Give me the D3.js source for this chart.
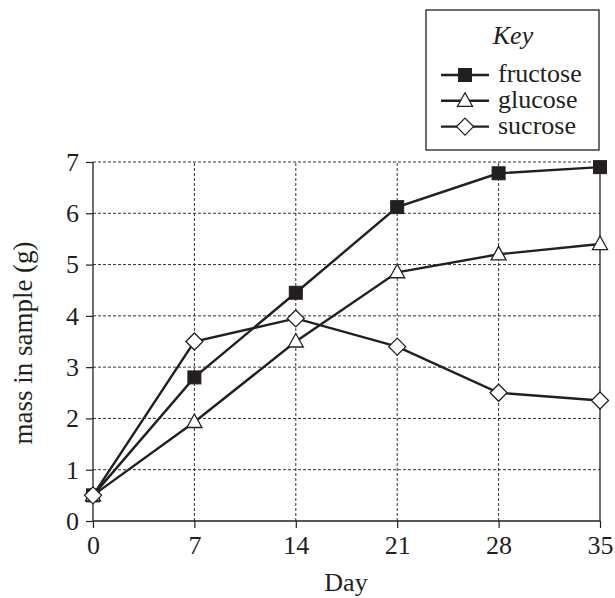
<!DOCTYPE html>
<html><head><meta charset="utf-8">
<script src="https://cdn.jsdelivr.net/npm/d3@7"></script>
<style>body{margin:0;background:#fff}svg{display:block}text{font-family:"Liberation Serif","Times New Roman",serif;fill:#231f20}</style>
</head><body><svg id="c" width="615" height="598"></svg>
<script>
const days = [0, 7, 14, 21, 28, 35];
const fructose = [0.5, 2.8, 4.45, 6.12, 6.78, 6.9];
const glucose = [0.5, 1.93, 3.5, 4.85, 5.2, 5.4];
const sucrose = [0.5, 3.5, 3.95, 3.4, 2.5, 2.35];
const yTicks = [0, 1, 2, 3, 4, 5, 6, 7];
const seriesNames = ["fructose", "glucose", "sucrose"];
const seriesShapes = ["square", "triangle", "diamond"];

const svg = d3.select("#c");
const ink = "#231f20";
const FS = 26;
const x = d3.scaleLinear().domain([0, 35]).range([93, 600]);
const y = d3.scaleLinear().domain([0, 7]).range([521, 162]);

// gridlines
const g = svg.append("g");
g.selectAll(".gy").data(yTicks.filter(d => d > 0)).join("line")
  .attr("x1", x(0)).attr("x2", x(35)).attr("y1", d => y(d)).attr("y2", d => y(d))
  .attr("stroke", "#333").attr("stroke-width", 1).attr("stroke-dasharray", "3,2");
g.selectAll(".gx").data(days.filter(d => d > 0 && d < 35)).join("line")
  .attr("x1", d => x(d)).attr("x2", d => x(d)).attr("y1", y(0)).attr("y2", y(7))
  .attr("stroke", "#333").attr("stroke-width", 1).attr("stroke-dasharray", "3,2");
// right border solid
svg.append("line").attr("x1", x(35)).attr("x2", x(35)).attr("y1", y(0)).attr("y2", y(7))
  .attr("stroke", ink).attr("stroke-width", 1.3);

// axes
const xAxis = d3.axisBottom(x).tickValues(days).tickSize(7).tickPadding(8).tickFormat(d3.format("d"));
const yAxis = d3.axisLeft(y).tickValues(yTicks).tickSize(7).tickPadding(7).tickFormat(d3.format("d"));
const gx = svg.append("g").attr("transform", `translate(0,${y(0)})`).call(xAxis);
const gy = svg.append("g").attr("transform", `translate(${x(0)},0)`).call(yAxis);
[gx, gy].forEach(a => {
  a.select(".domain").attr("stroke", ink).attr("stroke-width", 1.3);
  a.selectAll(".tick line").attr("stroke", ink).attr("stroke-width", 1.2);
  a.selectAll(".tick text").attr("font-size", FS).attr("font-family", "Liberation Serif").attr("fill", ink);
});
gx.select(".domain").attr("d", `M${x(0)},0H${x(35)}`);
gy.select(".domain").attr("d", `M0,${y(0)}V${y(7)}`);

svg.append("text").attr("x", 346).attr("y", 591).attr("text-anchor", "middle").attr("font-size", FS).text("Day");
svg.append("text").attr("transform", "translate(32,343) rotate(-90)").attr("text-anchor", "middle").attr("font-size", 27).text("mass in sample (g)");

const line = d3.line().x((d, i) => x(days[i])).y(d => y(d));
const allData = [fructose, glucose, sucrose];

function drawMarker(sel, shape, cx, cy) {
  if (shape === "square") {
    sel.append("rect").attr("x", cx - 6.5).attr("y", cy - 6.5).attr("width", 13).attr("height", 13)
      .attr("fill", ink).attr("stroke", ink).attr("stroke-width", 1);
  } else if (shape === "triangle") {
    sel.append("path").attr("d", `M${cx},${cy - 8}L${cx + 7.5},${cy + 5.5}L${cx - 7.5},${cy + 5.5}Z`)
      .attr("fill", "#fff").attr("stroke", ink).attr("stroke-width", 1.3);
  } else {
    sel.append("path").attr("d", `M${cx},${cy - 8.5}L${cx + 8.5},${cy}L${cx},${cy + 8.5}L${cx - 8.5},${cy}Z`)
      .attr("fill", "#fff").attr("stroke", ink).attr("stroke-width", 1.3);
  }
}

allData.forEach((vals, k) => {
  svg.append("path").datum(vals).attr("d", line).attr("fill", "none").attr("stroke", ink).attr("stroke-width", 2.4);
});
allData.forEach((vals, k) => {
  const mg = svg.append("g");
  vals.forEach((v, i) => drawMarker(mg, seriesShapes[k], x(days[i]), y(v)));
});

// legend
const lg = svg.append("g");
lg.append("rect").attr("x", 426).attr("y", 10).attr("width", 173).attr("height", 140)
  .attr("fill", "#fff").attr("stroke", ink).attr("stroke-width", 1.3);
lg.append("text").attr("x", 513).attr("y", 44).attr("text-anchor", "middle").attr("font-size", FS).attr("font-style", "italic").text("Key");
seriesNames.forEach((n, k) => {
  const yy = 75 + k * 25.8;
  lg.append("line").attr("x1", 441).attr("x2", 489).attr("y1", yy).attr("y2", yy).attr("stroke", ink).attr("stroke-width", 2.4);
  drawMarker(lg, seriesShapes[k], 465, yy);
  lg.append("text").attr("x", 498).attr("y", yy + 7).attr("font-size", FS).text(n);
});
</script></body></html>
